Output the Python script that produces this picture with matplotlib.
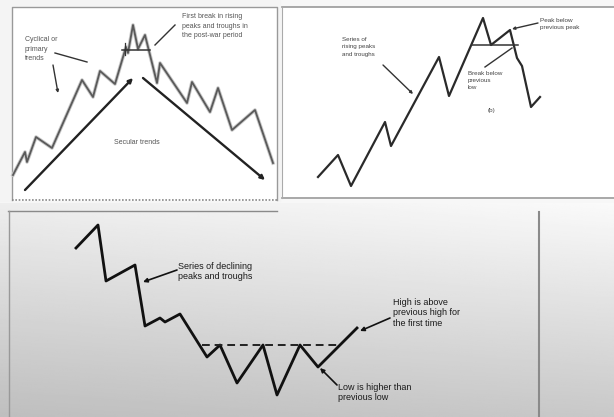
import matplotlib as mpl
from matplotlib import pyplot as plt
import numpy as np

mpl.rcParams['font.family'] = ['Liberation Sans', 'DejaVu Sans']

# panel 1: secular / cyclical trends (pixel-like coordinates, y down)
p1_x = [13, 25, 27, 36, 52, 82, 93, 100, 115, 126, 128, 133, 138, 145, 157, 160, 187, 192, 210, 218, 232, 255, 273]
p1_y = [175, 152, 162, 137, 148, 80, 97, 71, 84, 47, 53, 25, 49, 35, 83, 63, 103, 82, 112, 88, 130, 110, 163]
p1_break_x = [122, 150]
p1_break_y = [50, 50]

# panel 2: uptrend reversal
p2_x = [318, 338, 351, 385, 391, 439, 449, 483, 491, 510, 517, 522, 531, 540]
p2_y = [177, 155, 186, 122, 146, 57, 96, 18, 45, 30, 58, 66, 107, 97]
p2_low_x = [472, 518]
p2_low_y = [45, 45]

# panel 3: downtrend reversal
p3_x = [76, 98, 106, 135, 145, 160, 165, 180, 207, 220, 237, 263, 277, 300, 318, 357]
p3_y = [248, 225, 281, 265, 326, 318, 322, 314, 357, 345, 383, 345, 395, 345, 367, 328]
p3_high_x = [202, 338]
p3_high_y = [345, 345]

W, H = 614, 417
fig = plt.figure(figsize=(W / 100, H / 100), dpi=100)
fig.patch.set_facecolor('#f7f7f7')
ax = fig.add_axes([0, 0, 1, 1])
ax.set_xlim(0, W)
ax.set_ylim(H, 0)
ax.axis('off')

# grey gradient behind the lower diagram
grad = np.linspace(0.96, 0.77, 200).reshape(-1, 1) * np.ones((1, 50))
grad = grad * np.linspace(0.97, 1.02, 50).reshape(1, -1)
ax.imshow(np.clip(grad, 0, 1), cmap='gray', vmin=0, vmax=1, extent=(0, W, H, 203),
          aspect='auto', zorder=0)
ax.fill_between([0, 280], 0, 201, color='#f4f4f4', zorder=0.5)
ax.fill_between([12, 277], 7, 200, color='white', zorder=0.6)
ax.fill_between([282, W], 7, 198, color='white', zorder=0.6)

# frames
ax.plot([12, 12, 277, 277], [200, 7, 7, 200], color='#999999', lw=1.0, zorder=1)
ax.plot([12, 277], [200, 200], color='#888888', lw=1.2, ls=(0, (1, 1)), zorder=1)
ax.plot([282, W], [7, 7], color='#999999', lw=1.2, zorder=1)
ax.plot([282, W], [198, 198], color='#999999', lw=1.2, zorder=1)
ax.plot([282, 282], [7, 198], color='#aaaaaa', lw=0.8, zorder=1)
ax.plot([8, 277], [211, 211], color='#8a8a8a', lw=1.0, zorder=1)
ax.plot([9, 9], [211, H], color='#999999', lw=1.0, zorder=1)
ax.plot([539, 539], [212, H], color='#8a8a8a', lw=1.5, zorder=1)

# panel 1
ax.plot(p1_x, p1_y, color='#c8c8c8', lw=2.6, zorder=1.5)
ax.plot(p1_x, p1_y, color='#5a5a5a', lw=1.3, zorder=2)
ax.plot(p1_break_x, p1_break_y, color='#333333', lw=1.1, zorder=2)
ax.plot([125, 125], [43, 55], color='#333333', lw=0.9, zorder=2)
arrow1 = dict(arrowstyle='-|>', color='#222222', lw=1.7, mutation_scale=6, shrinkA=0, shrinkB=0)
ax.annotate('', xy=(133, 78), xytext=(25, 190), arrowprops=arrow1, zorder=3)
ax.annotate('', xy=(265, 180), xytext=(143, 78), arrowprops=arrow1, zorder=3)
ax.text(137, 142, 'Secular trends', fontsize=5, color='#555555', ha='center', va='center')
ax.text(25, 36, 'Cyclical or\nprimary\ntrends', fontsize=5, color='#555555',
        ha='left', va='top', linespacing=1.5)
ax.plot([55, 87], [53, 62], color='#333333', lw=1.0)
ax.annotate('', xy=(58, 93), xytext=(53, 65),
            arrowprops=dict(arrowstyle='-|>', color='#333333', lw=1.0, mutation_scale=4,
                            shrinkA=0, shrinkB=0))
ax.text(182, 13, 'First break in rising\npeaks and troughs in\nthe post-war period',
        fontsize=5, color='#555555', ha='left', va='top', linespacing=1.5)
ax.plot([175, 155], [25, 45], color='#333333', lw=1.0)

# panel 2
ax.plot(p2_x, p2_y, color='#2a2a2a', lw=1.6, zorder=2)
ax.plot(p2_low_x, p2_low_y, color='#333333', lw=1.1, zorder=2)
arrow2 = dict(arrowstyle='-|>', color='#333333', lw=1.0, mutation_scale=4, shrinkA=0, shrinkB=0)
ax.text(342, 37, 'Series of\nrising peaks\nand troughs', fontsize=4.5, color='#444444',
        ha='left', va='top', linespacing=1.6)
ax.annotate('', xy=(413, 94), xytext=(383, 65), arrowprops=arrow2)
ax.text(540, 18, 'Peak below\nprevious peak', fontsize=4.6, color='#444444',
        ha='left', va='top', linespacing=1.6)
ax.annotate('', xy=(512, 29), xytext=(538, 23), arrowprops=arrow2)
ax.text(468, 71, 'Break below\nprevious\nlow', fontsize=4.5, color='#444444',
        ha='left', va='top', linespacing=1.5)
ax.plot([485, 512], [67, 48], color='#333333', lw=1.0)
ax.text(492, 110, '(b)', fontsize=4.5, color='#444444', ha='center', va='center')

# panel 3
ax.plot(p3_x, p3_y, color='#111111', lw=2.0, zorder=2)
ax.plot(p3_high_x, p3_high_y, color='#222222', lw=1.4, ls=(0, (4, 2.5)), zorder=2)
arrow3 = dict(arrowstyle='-|>', color='#111111', lw=1.2, mutation_scale=6, shrinkA=0, shrinkB=0)
ax.text(178, 262, 'Series of declining\npeaks and troughs', fontsize=6.5, color='#1a1a1a',
        ha='left', va='top', linespacing=1.2)
ax.annotate('', xy=(143, 282), xytext=(177, 270), arrowprops=arrow3)
ax.text(393, 298, 'High is above\nprevious high for\nthe first time', fontsize=6.5,
        color='#1a1a1a', ha='left', va='top', linespacing=1.2)
ax.annotate('', xy=(360, 331), xytext=(390, 318), arrowprops=arrow3)
ax.text(338, 383, 'Low is higher than\nprevious low', fontsize=6.5, color='#1a1a1a',
        ha='left', va='top', linespacing=1.2)
ax.annotate('', xy=(320, 368), xytext=(337, 385), arrowprops=arrow3)

plt.savefig('out.png', dpi=100)
